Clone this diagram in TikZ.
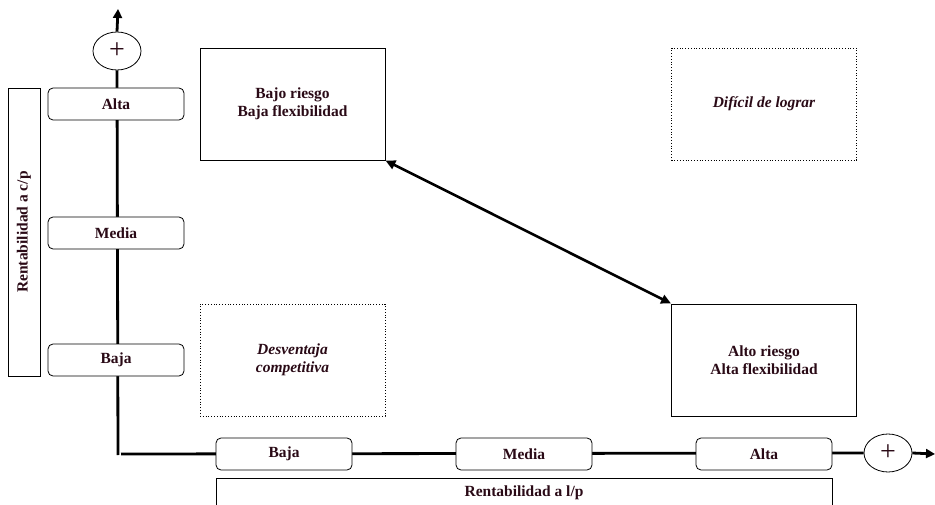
\documentclass[tikz,border=0pt]{standalone}
\usepackage{fontspec}
\setmainfont{Liberation Serif}
\usetikzlibrary{arrows.meta,shapes.geometric}
\definecolor{txt}{RGB}{42,10,22}
\begin{document}
\begin{tikzpicture}[x=1pt,y=-1pt,
  lbl/.style={draw,line width=0.8pt,rounded corners=5pt,minimum width=136pt,minimum height=32pt,inner sep=0pt,font=\fontsize{15.5}{17}\selectfont\bfseries,text=txt},
  quad/.style={draw,line width=0.8pt,minimum width=185pt,minimum height=112pt,inner sep=0pt,align=center,font=\fontsize{15.5}{18.5}\selectfont\bfseries,text=txt},
  dquad/.style={quad,dotted,line width=0.7pt,font=\fontsize{15.5}{18.5}\selectfont\bfseries\itshape},
  plus/.style={draw,line width=0.8pt,ellipse,minimum width=48pt,minimum height=38pt,inner sep=0pt,font=\fontsize{28}{28}\selectfont,text=txt},
  axis/.style={line width=2.8pt},
  title/.style={draw,line width=0.8pt,inner sep=0pt,font=\fontsize{15.5}{17}\selectfont\bfseries,text=txt}]
\useasboundingbox (0,0) rectangle (935,505);
% axes
\coordinate (o) at (118,455);
\coordinate (ytop) at (118,9);
\coordinate (xr) at (935,454);
\coordinate (ox) at (121,454);
\node[plus,fill=white] (py) at (117,51) {+};
\node[plus] (px) at (888,453) {+};
\draw[axis] (o) -- (py.south);
\draw[axis,-{Triangle[length=9pt,width=9pt]}] (py.north) -- (ytop);
\draw[axis] (ox) -- (px.west);
\draw[axis,-{Triangle[length=9pt,width=9pt]}] (px.east) -- (xr);
% vertical labels
\node[lbl,fill=white] (va) at (116,104) {Alta};
\node[lbl,fill=white] (vm) at (116,233) {Media};
\node[lbl,fill=white] (vb) at (116,360) {Baja};
\node[title,minimum width=32pt,minimum height=288pt] (vt) at (24,232) {};
\node[rotate=90,font=\fontsize{15.5}{17}\selectfont\bfseries,text=txt] at (vt.center) {Rentabilidad a c/p};
% horizontal labels
\node[lbl,fill=white] (hb) at (284,454) {Baja};
\node[lbl,fill=white] (hm) at (524,454) {Media};
\node[lbl,fill=white] (ha) at (764,454) {Alta};
\node[title,minimum width=616pt,minimum height=40pt,anchor=north west] (ht) at (216,478) {};
\node[font=\fontsize{15.5}{17}\selectfont\bfseries,text=txt] at (524,493) {Rentabilidad a l/p};
% quadrants
\node[quad] (q1) at (292.5,104) {Bajo riesgo\\Baja flexibilidad};
\node[dquad] (q2) at (764,104) {Difícil de lograr};
\node[dquad] (q3) at (292.5,360) {Desventaja\\competitiva};
\node[quad] (q4) at (764,360) {Alto riesgo\\Alta flexibilidad};
\draw[line width=2.6pt,{Triangle[length=10pt,width=9pt]}-{Triangle[length=10pt,width=9pt]}] (q1.south east) -- (q4.north west);
\end{tikzpicture}
\end{document}
